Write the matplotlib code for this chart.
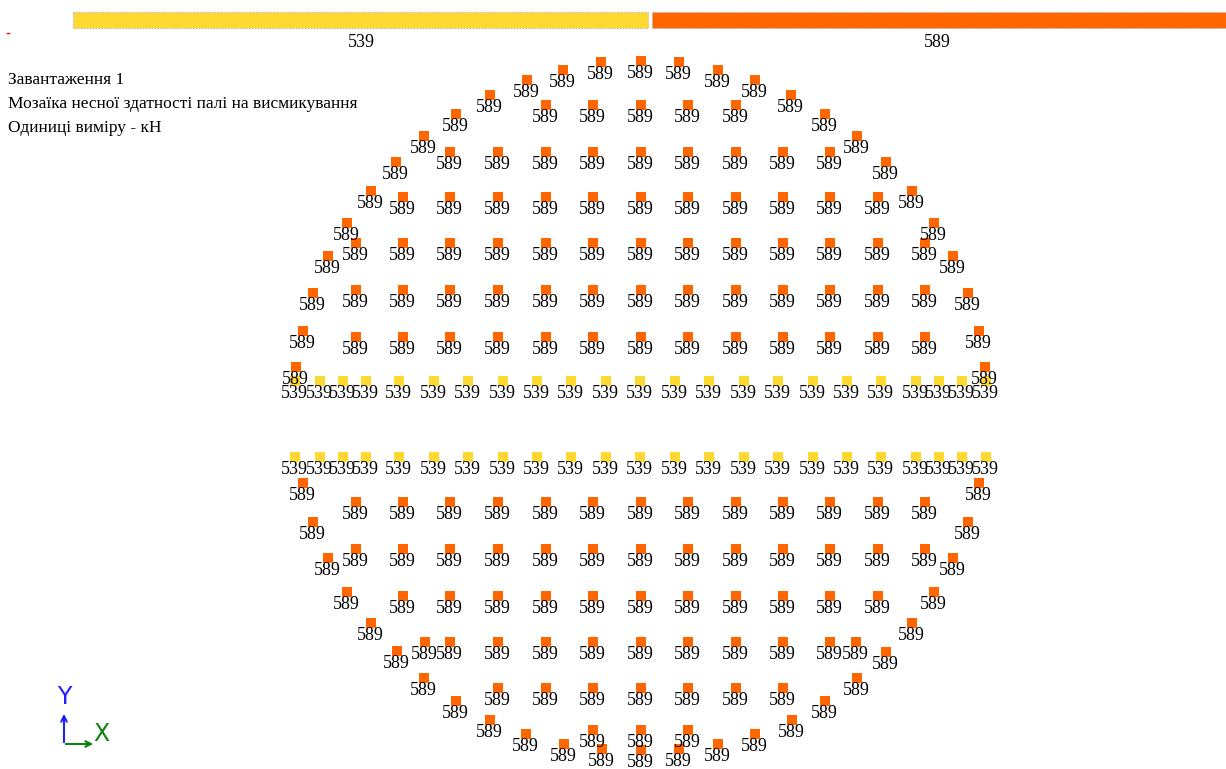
import numpy as np
import matplotlib.pyplot as plt

# legend scale
legend_values = [539, 589]
legend_colors = ["#FFD932", "#FF6600"]

# pile plan positions (plan units, y grows downward) and capacity, kN
grid_cols = [356, 403, 450, 498, 546, 593, 641, 688, 736, 783, 830, 878, 925]
# (row y, first column index, last column index)
upper_rows = [(105, 4, 8), (152, 2, 10), (197, 1, 11), (243, 0, 12), (290, 0, 12), (337, 0, 12)]
lower_rows = [(502, 0, 12), (549, 0, 12), (596, 1, 11), (642, 2, 10), (688, 3, 9), (730, 5, 7)]

ring_upper_x = [296, 303, 313, 328, 347, 371, 396, 424, 456, 490, 527, 563, 601, 641,
                679, 718, 755, 791, 825, 857, 886, 912, 934, 953, 968, 979, 985]
ring_upper_y = [367, 331, 293, 256, 223, 191, 162, 136, 114, 95, 80, 70, 62, 61,
                62, 70, 80, 95, 114, 136, 162, 191, 223, 256, 293, 331, 367]
ring_lower_x = [303, 313, 328, 347, 371, 397, 425, 424, 456, 490, 526, 564, 602, 641,
                679, 718, 755, 792, 825, 857, 856, 886, 912, 934, 953, 968, 979]
ring_lower_y = [483, 522, 558, 592, 623, 651, 642, 678, 701, 720, 734, 744, 749, 750,
                749, 744, 734, 720, 701, 678, 642, 652, 623, 592, 558, 522, 483]
ring_value = 589
grid_value = 589

mid_x = [295, 320, 343, 366, 399, 434, 468, 503, 537, 571, 606, 640,
         675, 709, 744, 778, 813, 847, 881, 916, 939, 962, 986]
mid_rows_y = [381, 457]
mid_value = 539

W, H = 1226, 769
fig = plt.figure(figsize=(W / 100, H / 100), dpi=100)
ax = fig.add_axes([0, 0, 1, 1])
ax.set_xlim(0, W)
ax.set_ylim(H, 0)
ax.axis("off")

serif = "Liberation Serif"
cmap = dict(zip(legend_values, legend_colors))

# collect piles
px, py, pv = [], [], []
for rows in (upper_rows, lower_rows):
    for y, i0, i1 in rows:
        for x in grid_cols[i0:i1 + 1]:
            px.append(x); py.append(y); pv.append(grid_value)
for x, y in zip(ring_upper_x + ring_lower_x, ring_upper_y + ring_lower_y):
    px.append(x); py.append(y); pv.append(ring_value)
for y in mid_rows_y:
    for x in mid_x:
        px.append(x); py.append(y); pv.append(mid_value)

px, py, pv = np.array(px), np.array(py), np.array(pv)
ax.scatter(px, py, s=60, marker="s", c=[cmap[v] for v in pv],
           edgecolors="none", zorder=2)
for x, y, v in zip(px, py, pv):
    ax.text(x - 0.5, y + 17, str(v), ha="center", va="baseline", fontsize=13,
            family=serif, color="black", zorder=3)

# colour scale bar at the top
x0 = 73
seg = (W - x0) / len(legend_values)
for i, (v, c) in enumerate(zip(legend_values, legend_colors)):
    left = x0 + i * seg + (2 if i else 0)
    ax.barh(19.5, seg - 2, left=left, height=16, color=c,
            edgecolor="#b0b0b0", linewidth=0.8, linestyle=":", zorder=1)
    ax.text(x0 + i * seg + seg / 2, 47, str(v), ha="center", va="baseline",
            fontsize=13, family=serif)

ax.plot([7, 9], [33, 33], color="red", lw=1)

title_lines = ["Завантаження 1",
               "Мозаїка несної здатності палі на висмикування",
               "Одиниці виміру - кН"]
for k, line in enumerate(title_lines):
    ax.text(8, 84 + 24 * k, line, ha="left", va="baseline",
            fontsize=12.5, family=serif)

# coordinate axes glyph
ax.annotate("", xy=(64, 711), xytext=(64, 745),
            arrowprops=dict(arrowstyle="->", color="#2020FF", lw=1.5))
ax.annotate("", xy=(96, 744), xytext=(63, 744),
            arrowprops=dict(arrowstyle="->", color="#108010", lw=1.5))
ax.text(64, 697, "Y", ha="center", va="center", fontsize=17, color="#2020FF")
ax.text(101, 734, "X", ha="center", va="center", fontsize=17, color="#108010")

fig.savefig("out.png", dpi=100)
